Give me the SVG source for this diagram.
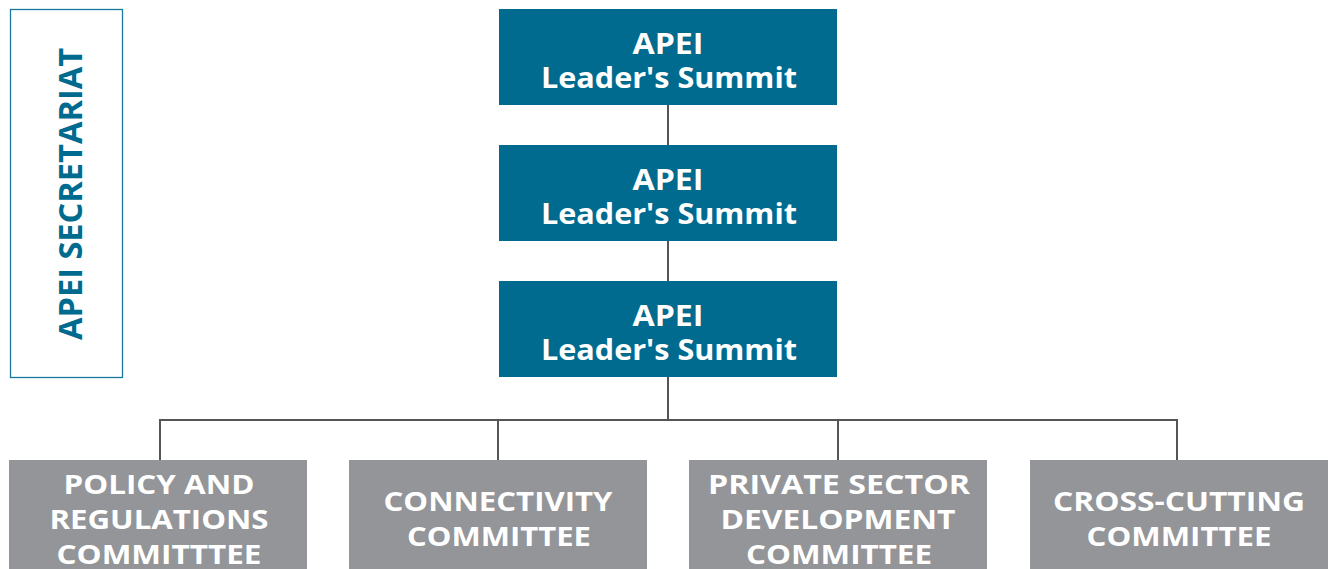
<svg xmlns="http://www.w3.org/2000/svg" width="1335" height="569" viewBox="0 0 1335 569">
<style>
.top{fill:#006b8f}
.bot{fill:#939598}
.t{font-family:"Open Sans","Liberation Sans",sans-serif;font-weight:700;fill:#ffffff;text-anchor:middle}
.tt{font-size:29px}
.bt{font-size:26px}
.con{stroke:#555555;stroke-width:2;fill:none}
</style>
<rect width="1335" height="569" fill="#ffffff"/>
<g id="secretariat">
<rect x="10.5" y="9.5" width="112" height="368" fill="none" stroke="#1a7a9e" stroke-width="1.3"/>
<text transform="translate(82,194) rotate(-90)" text-anchor="middle" font-family="'Open Sans','Liberation Sans',sans-serif" font-weight="700" font-size="32" fill="#006b8f" textLength="292" lengthAdjust="spacingAndGlyphs">APEI SECRETARIAT</text>
</g>
<g id="connectors">
<line class="con" x1="668" y1="105" x2="668" y2="145"/>
<line class="con" x1="668" y1="241" x2="668" y2="281"/>
<line class="con" x1="668" y1="377" x2="668" y2="420"/>
<polyline class="con" points="160,460 160,420 1177,420 1177,460"/>
<line class="con" x1="498" y1="420" x2="498" y2="460"/>
<line class="con" x1="838" y1="420" x2="838" y2="460"/>
</g>
<g id="summit1">
<rect class="top" x="499" y="9" width="338" height="96"/>
<text class="t tt" x="668" y="54" textLength="71" lengthAdjust="spacingAndGlyphs">APEI</text>
<text class="t tt" x="669" y="88" textLength="256" lengthAdjust="spacingAndGlyphs">Leader's Summit</text>
</g>
<g id="summit2">
<rect class="top" x="499" y="145" width="338" height="96"/>
<text class="t tt" x="668" y="190" textLength="71" lengthAdjust="spacingAndGlyphs">APEI</text>
<text class="t tt" x="669" y="224" textLength="256" lengthAdjust="spacingAndGlyphs">Leader's Summit</text>
</g>
<g id="summit3">
<rect class="top" x="499" y="281" width="338" height="96"/>
<text class="t tt" x="668" y="326" textLength="71" lengthAdjust="spacingAndGlyphs">APEI</text>
<text class="t tt" x="669" y="360" textLength="256" lengthAdjust="spacingAndGlyphs">Leader's Summit</text>
</g>
<g id="policy">
<rect class="bot" x="9" y="460" width="298" height="115"/>
<text class="t bt" x="159" y="494" textLength="191" lengthAdjust="spacingAndGlyphs">POLICY AND</text>
<text class="t bt" x="159" y="529" textLength="219" lengthAdjust="spacingAndGlyphs">REGULATIONS</text>
<text class="t bt" x="159" y="564" textLength="205" lengthAdjust="spacingAndGlyphs">COMMITTTEE</text>
</g>
<g id="connectivity">
<rect class="bot" x="349" y="460" width="298" height="115"/>
<text class="t bt" x="498" y="511" textLength="229" lengthAdjust="spacingAndGlyphs">CONNECTIVITY</text>
<text class="t bt" x="499" y="546" textLength="184" lengthAdjust="spacingAndGlyphs">COMMITTEE</text>
</g>
<g id="private">
<rect class="bot" x="689" y="460" width="298" height="115"/>
<text class="t bt" x="839" y="494" textLength="262" lengthAdjust="spacingAndGlyphs">PRIVATE SECTOR</text>
<text class="t bt" x="838" y="529" textLength="235" lengthAdjust="spacingAndGlyphs">DEVELOPMENT</text>
<text class="t bt" x="839" y="564" textLength="186" lengthAdjust="spacingAndGlyphs">COMMITTEE</text>
</g>
<g id="crosscutting">
<rect class="bot" x="1030" y="460" width="298" height="115"/>
<text class="t bt" x="1179" y="511" textLength="252" lengthAdjust="spacingAndGlyphs">CROSS-CUTTING</text>
<text class="t bt" x="1179" y="546" textLength="185" lengthAdjust="spacingAndGlyphs">COMMITTEE</text>
</g>
</svg>
